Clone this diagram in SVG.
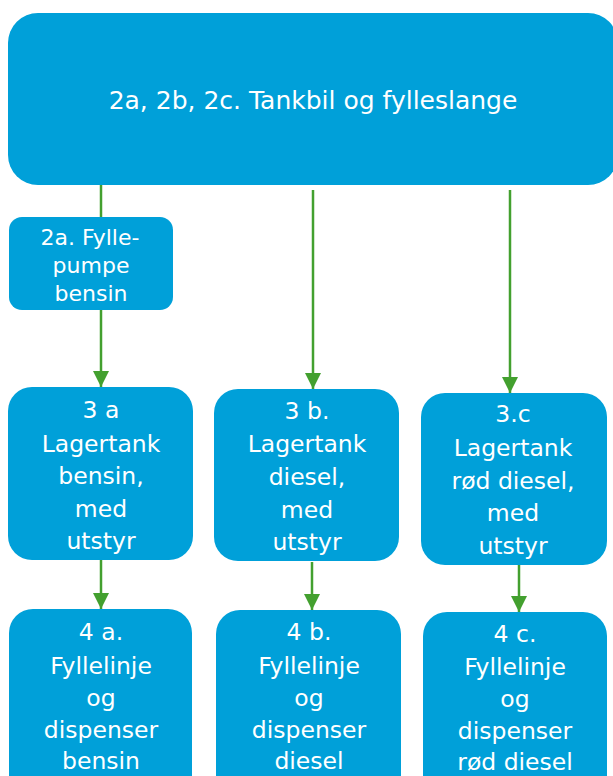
<svg xmlns="http://www.w3.org/2000/svg" width="613" height="776" viewBox="0 0 613 776">
<defs>
<style>
.box{fill:#00a0d9;}
.t{font-family:"DejaVu Sans",Verdana,sans-serif;font-size:23.5px;fill:#ffffff;text-anchor:middle;}
.s{font-size:22px;}
.L{font-size:25px;}
.c{stroke:#43a02f;stroke-width:2.5;fill:none;}
</style>
<marker id="ah" markerWidth="16" markerHeight="16" viewBox="0 0 16 16" refX="16" refY="8" orient="auto" markerUnits="userSpaceOnUse">
<path d="M0,0 L16,8 L0,16 Z" fill="#43a02f"/>
</marker>
</defs>
<rect width="613" height="776" fill="#ffffff"/>
<g id="connectors">
<line class="c" x1="101" y1="185" x2="101" y2="217"/>
<line class="c" x1="101" y1="310" x2="101" y2="387" marker-end="url(#ah)"/>
<line class="c" x1="313" y1="190" x2="313" y2="389" marker-end="url(#ah)"/>
<line class="c" x1="510" y1="190" x2="510" y2="393" marker-end="url(#ah)"/>
<line class="c" x1="101" y1="560" x2="101" y2="609" marker-end="url(#ah)"/>
<line class="c" x1="312" y1="562" x2="312" y2="610" marker-end="url(#ah)"/>
<line class="c" x1="519" y1="565" x2="519" y2="612" marker-end="url(#ah)"/>
</g>
<g id="n-top">
<rect class="box" x="8" y="13" width="610" height="172" rx="30"/>
<text class="t L" x="313" y="109">2a, 2b, 2c. Tankbil og fylleslange</text>
</g>
<g id="n-2a">
<rect class="box" x="9" y="217" width="164" height="93" rx="13"/>
<text class="t s" x="90" y="245">2a. Fylle-</text>
<text class="t s" x="91" y="273">pumpe</text>
<text class="t s" x="91" y="301">bensin</text>
</g>
<g id="n-3a">
<rect class="box" x="8" y="387" width="185" height="173" rx="24"/>
<text class="t" x="101" y="418">3 a</text>
<text class="t" x="101" y="452">Lagertank</text>
<text class="t" x="101" y="484">bensin,</text>
<text class="t" x="101" y="517">med</text>
<text class="t" x="101" y="549">utstyr</text>
</g>
<g id="n-3b">
<rect class="box" x="214" y="389" width="185" height="172" rx="24"/>
<text class="t" x="307" y="419">3 b.</text>
<text class="t" x="307" y="452">Lagertank</text>
<text class="t" x="307" y="485">diesel,</text>
<text class="t" x="307" y="518">med</text>
<text class="t" x="307" y="550">utstyr</text>
</g>
<g id="n-3c">
<rect class="box" x="421" y="393" width="186" height="172" rx="24"/>
<text class="t" x="513" y="422">3.c</text>
<text class="t" x="513" y="456">Lagertank</text>
<text class="t" x="513" y="489">rød diesel,</text>
<text class="t" x="513" y="521">med</text>
<text class="t" x="513" y="554">utstyr</text>
</g>
<g id="n-4a">
<rect class="box" x="9" y="609" width="183" height="190" rx="24"/>
<text class="t" x="101" y="640">4 a.</text>
<text class="t" x="101" y="674">Fyllelinje</text>
<text class="t" x="101" y="706">og</text>
<text class="t" x="101" y="738">dispenser</text>
<text class="t" x="101" y="769">bensin</text>
</g>
<g id="n-4b">
<rect class="box" x="216" y="610" width="185" height="190" rx="24"/>
<text class="t" x="309" y="640">4 b.</text>
<text class="t" x="309" y="674">Fyllelinje</text>
<text class="t" x="309" y="706">og</text>
<text class="t" x="309" y="738">dispenser</text>
<text class="t" x="309" y="769">diesel</text>
</g>
<g id="n-4c">
<rect class="box" x="423" y="612" width="184" height="190" rx="24"/>
<text class="t" x="515" y="642">4 c.</text>
<text class="t" x="515" y="675">Fyllelinje</text>
<text class="t" x="515" y="707">og</text>
<text class="t" x="515" y="739">dispenser</text>
<text class="t" x="515" y="770">rød diesel</text>
</g>
</svg>
